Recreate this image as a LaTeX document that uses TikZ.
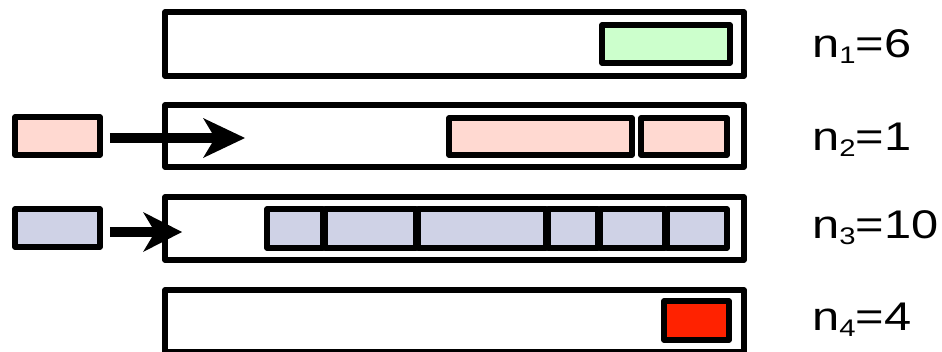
\documentclass[tikz,border=0pt]{standalone}
\usepackage{fontspec}
\setmainfont{Liberation Sans}
\usetikzlibrary{arrows.meta}
\definecolor{cgreen}{HTML}{CCFFCC}
\definecolor{cpink}{HTML}{FFD9D1}
\definecolor{cblue}{HTML}{CFD2E6}
\definecolor{cred}{HTML}{FF2200}
\tikzset{
  cell/.style={draw, line width=5.5pt, line join=round, rectangle, inner sep=0pt},
  push/.style={line width=10pt, -{Stealth[length=#1, width=40pt, inset=12pt, line width=0pt]}},
  lbl/.style={anchor=base west, inner sep=0pt, xscale=1.22, font=\fontsize{40}{40}\selectfont},
}
\newcommand{\sublbl}[2]{n\raisebox{-6pt}{\fontsize{24}{24}\selectfont #1}=#2}
\newcommand{\cellat}[6]{\node[cell, fill=#6, minimum width={#3-#2}, minimum height={#5-#4}] (#1) at ({(#2+#3)/2},{(#4+#5)/2}) {};}
\begin{document}
\begin{tikzpicture}[x=1pt, y=-1pt]
\useasboundingbox (0,0) rectangle (942,351);
% big boxes
\cellat{b1}{165}{744}{12}{76}{white}
\cellat{b2}{165}{744}{105}{167}{white}
\cellat{b3}{165}{744}{197}{260}{white}
\cellat{b4}{165}{744}{290}{352}{white}
% row 1
\cellat{g1}{602}{730}{25}{63}{cgreen}
% row 2
\cellat{p1}{449}{632}{118}{155}{cpink}
\cellat{p2}{641}{727}{118}{155}{cpink}
% row 3
\cellat{q1}{267}{323}{209}{248}{cblue}
\cellat{q2}{325}{416}{209}{248}{cblue}
\cellat{q3}{418}{546}{209}{248}{cblue}
\cellat{q4}{548}{598}{209}{248}{cblue}
\cellat{q5}{600}{665}{209}{248}{cblue}
\cellat{q6}{667}{727}{209}{248}{cblue}
% row 4
\cellat{r1}{664}{729}{301}{340}{cred}
% left incoming
\cellat{lp}{15}{100}{117}{155}{cpink}
\cellat{lb}{15}{100}{209}{247}{cblue}
% arrows
\coordinate (t2) at (245,138);
\coordinate (t3) at (182,232);
\draw[push=42pt] ([xshift=7pt]lp.east |- t2) -- (t2);
\draw[push=39pt] ([xshift=7pt]lb.east |- t3) -- (t3);
% labels
\node[lbl] (n1) at (812,57) {\sublbl{1}{6}};
\node[lbl] (n2) at (812,150) {\sublbl{2}{1}};
\node[lbl] (n3) at (812,238) {\sublbl{3}{10}};
\node[lbl] (n4) at (812,330) {\sublbl{4}{4}};
\end{tikzpicture}
\end{document}
